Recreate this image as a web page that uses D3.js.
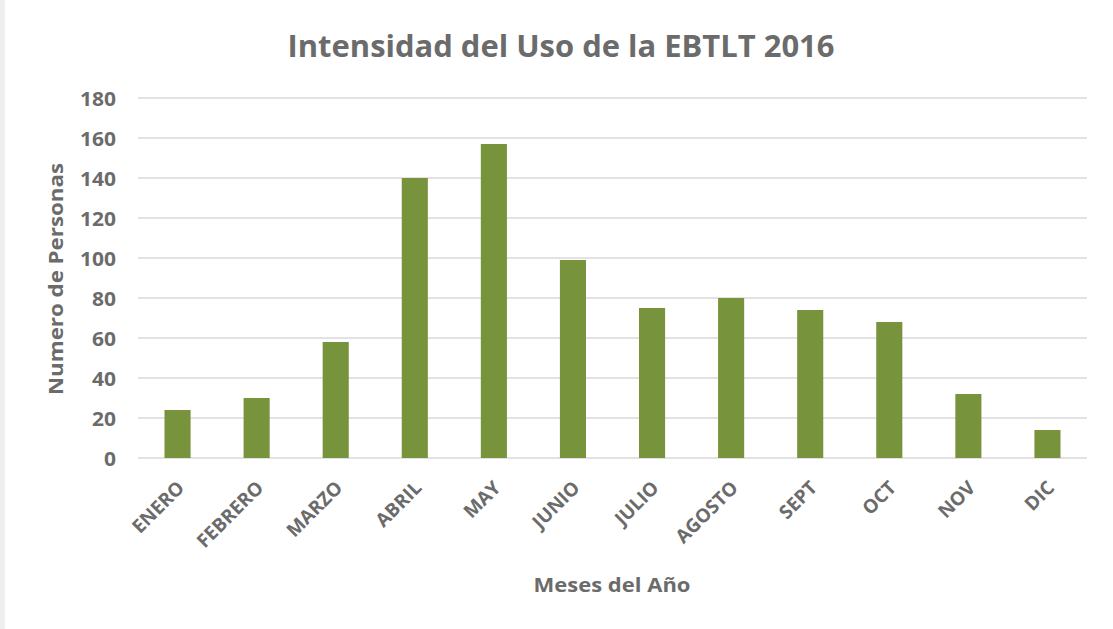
<!DOCTYPE html>
<html><head><meta charset="utf-8">
<script src="https://cdn.jsdelivr.net/npm/d3@7/dist/d3.min.js"></script>
<style>
html,body{margin:0;padding:0;background:#fff;}
svg{display:block;font-family:"Open Sans",sans-serif;}
</style></head>
<body><svg id="c" width="1113" height="629"></svg>
<script>
const months = ["ENERO","FEBRERO","MARZO","ABRIL","MAY","JUNIO","JULIO","AGOSTO","SEPT","OCT","NOV","DIC"];
const personas = [24,30,58,140,157,99,75,80,74,68,32,14];
const yTicks = [0,20,40,60,80,100,120,140,160,180];
const titleText = "Intensidad del Uso de la EBTLT 2016";
const xTitle = "Meses del Año";
const yTitle = "Numero de Personas";

const svg = d3.select("#c");
const W = 1113, H = 629;
const m = {left:138, right:1087, top:98, bottom:458};
const textCol = "#6b6b6b";

// left border strip
svg.append("rect").attr("x",0).attr("y",0).attr("width",5).attr("height",H).attr("fill","#efefef");

const x = d3.scaleBand().domain(months).range([m.left,m.right]).paddingInner(0.67).paddingOuter(0.335);
const y = d3.scaleLinear().domain([0,180]).range([m.bottom,m.top]);

// gridlines
svg.append("g").selectAll("line").data(yTicks).join("line")
  .attr("x1",m.left).attr("x2",m.right)
  .attr("y1",d=>y(d)).attr("y2",d=>y(d))
  .attr("stroke","#d9d9d9").attr("stroke-width",1.3);

// y axis labels
const ya = svg.append("g").attr("transform",`translate(${m.left-22},0)`)
  .call(d3.axisLeft(y).tickValues(yTicks).tickSize(0).tickPadding(0));
ya.select(".domain").remove();
ya.selectAll("text").attr("font-size",20).attr("font-weight","bold").attr("fill",textCol)
  .attr("font-family","Open Sans").attr("dy","0.36em")
  .attr("textLength",d=>String(d).length*12).attr("lengthAdjust","spacingAndGlyphs");

// bars
svg.append("g").selectAll("rect").data(personas).join("rect")
  .attr("x",(d,i)=>x(months[i]))
  .attr("width",x.bandwidth())
  .attr("y",d=>y(d))
  .attr("height",d=>y(0)-y(d))
  .attr("fill","#77933c");

// x axis labels
const xa = svg.append("g").attr("transform",`translate(0,${m.bottom})`)
  .call(d3.axisBottom(x).tickSize(0).tickPadding(0));
xa.select(".domain").remove();
xa.selectAll("text")
  .attr("font-size",19).attr("font-weight","bold").attr("fill",textCol)
  .attr("font-family","Open Sans")
  .attr("text-anchor","end").attr("dy",0)
  .attr("transform","translate(8,31) rotate(-45)");

// title
svg.append("text").attr("x",561).attr("y",57).attr("text-anchor","middle")
  .attr("font-size",31).attr("font-weight","bold").attr("fill",textCol)
  .attr("textLength",547).attr("lengthAdjust","spacingAndGlyphs")
  .text(titleText);

// x title
svg.append("text").attr("x",612).attr("y",592).attr("text-anchor","middle")
  .attr("font-size",20).attr("font-weight","bold").attr("fill",textCol)
  .attr("textLength",157).attr("lengthAdjust","spacingAndGlyphs")
  .text(xTitle);

// y title
svg.append("text").attr("transform",`translate(63,279) rotate(-90)`).attr("text-anchor","middle")
  .attr("font-size",20).attr("font-weight","bold").attr("fill",textCol)
  .attr("textLength",232).attr("lengthAdjust","spacingAndGlyphs")
  .text(yTitle);
</script></body></html>
